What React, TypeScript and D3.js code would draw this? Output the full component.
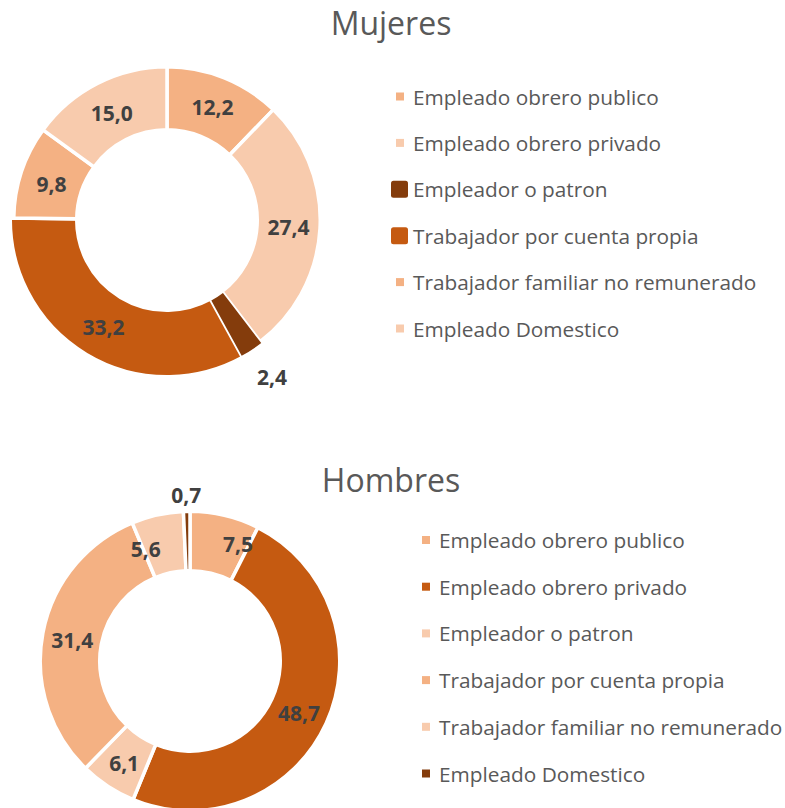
import React, { useEffect } from "react";
import * as d3 from "d3";

const categories = [
  "Empleado obrero publico",
  "Empleado obrero privado",
  "Empleador o patron",
  "Trabajador por cuenta propia",
  "Trabajador familiar no remunerado",
  "Empleado Domestico",
];
const mujeresValues = [12.2, 27.4, 2.4, 33.2, 9.8, 15.0];
const hombresValues = [7.5, 48.7, 6.1, 31.4, 5.6, 0.7];

const C_MID = "#F4B183";
const C_LIGHT = "#F8CBAD";
const C_DARK = "#843C0C";
const C_ORANGE = "#C55A11";

const mujeresColors = [C_MID, C_LIGHT, C_DARK, C_ORANGE, C_MID, C_LIGHT];
const hombresColors = [C_MID, C_ORANGE, C_LIGHT, C_MID, C_LIGHT, C_DARK];

const W = 785;
const H = 808;
const FONT = "'Open Sans', 'Noto Sans', sans-serif";
const fmt = (v: number) => d3.format(".1f")(v).replace(".", ",");
const GAP = 3.5;

type Cfg = {
  title: string;
  values: number[];
  colors: string[];
  cx: number;
  cy: number;
  rOuter: number;
  rInner: number;
  raisedOuter: number;
  titleX: number;
  titleY: number;
  markerCx: number;
  textX: number;
  firstRow: number;
  rowStep: number;
  bigMarker: boolean[];
  raised: boolean[];
  onTop: boolean[];
  nudge: [number, number][];
};

const configs: Cfg[] = [
  {
    title: "Mujeres",
    values: mujeresValues,
    colors: mujeresColors,
    cx: 167,
    cy: 220,
    rOuter: 151.5,
    rInner: 92,
    raisedOuter: 155,
    titleX: 391,
    titleY: 35,
    markerCx: 400,
    textX: 413,
    firstRow: 96.5,
    rowStep: 46.4,
    bigMarker: [false, false, true, true, false, false],
    raised: [false, false, true, true, false, false],
    onTop: [false, false, true, false, false, false],
    nudge: [[0, 0], [0, 0], [4, 2], [0, 1], [0, 2], [0, 1]],
  },
  {
    title: "Hombres",
    values: hombresValues,
    colors: hombresColors,
    cx: 190,
    cy: 661,
    rOuter: 148,
    rInner: 92,
    raisedOuter: 148,
    titleX: 391,
    titleY: 492,
    markerCx: 426,
    textX: 439,
    firstRow: 540,
    rowStep: 46.7,
    bigMarker: [false, false, false, false, false, false],
    raised: [false, false, false, false, false, false],
    onTop: [false, false, false, false, false, false],
    nudge: [[20, 0], [0, 2], [0, 2], [0, 1], [-18, 5], [0, 0]],
  },
];

function Donut({ cfg }: { cfg: Cfg }) {
  const pie = d3
    .pie<number>()
    .sort(null)
    .value((d) => d)
    .startAngle(0)
    .endAngle(2 * Math.PI);
  const arcs = pie(cfg.values);
  const order = arcs
    .map((_, i) => i)
    .sort((a, b) => Number(cfg.onTop[a]) - Number(cfg.onTop[b]) || a - b);

  return (
    <g>
      <text
        x={cfg.titleX}
        y={cfg.titleY}
        textAnchor="middle"
        fontFamily={FONT}
        fontSize={32}
        fill="#595959"
      >
        {cfg.title}
      </text>
      <g transform={`translate(${cfg.cx},${cfg.cy})`}>
        {order.map((i) => {
          const a = arcs[i];
          const outerVis = cfg.raised[i] ? cfg.raisedOuter : cfg.rOuter;
          const top = cfg.onTop[i];
          const arc = d3
            .arc<d3.PieArcDatum<number>>()
            .innerRadius(top ? cfg.rInner : cfg.rInner - GAP / 2)
            .outerRadius(top ? outerVis : outerVis + GAP / 2);
          return (
            <path
              key={i}
              d={arc(a) || ""}
              fill={cfg.colors[i]}
              stroke={top ? "none" : "#ffffff"}
              strokeWidth={GAP}
              strokeLinejoin="miter"
            />
          );
        })}
        {arcs.map((a, i) => {
          const mid = (a.startAngle + a.endAngle) / 2;
          const outerVis = cfg.raised[i] ? cfg.raisedOuter : cfg.rOuter;
          const small = cfg.values[i] < 3;
          const r = small
            ? outerVis + (cfg.values[i] < 1 ? 18 : 30)
            : (cfg.rInner + outerVis) / 2;
          const x = Math.sin(mid) * r + cfg.nudge[i][0];
          const y = -Math.cos(mid) * r + cfg.nudge[i][1];
          return (
            <text
              key={i}
              x={x}
              y={y}
              textAnchor="middle"
              dominantBaseline="central"
              fontFamily={FONT}
              fontWeight="bold"
              fontSize={21}
              fill="#404040"
            >
              {fmt(cfg.values[i])}
            </text>
          );
        })}
      </g>
      <g>
        {categories.map((c, i) => {
          const y = cfg.firstRow + i * cfg.rowStep;
          const big = cfg.bigMarker[i];
          const s = big ? 17 : 8;
          return (
            <g key={c}>
              <rect
                x={(big ? cfg.markerCx - 0.5 : cfg.markerCx) - s / 2}
                y={y - s / 2}
                width={s}
                height={s}
                rx={big ? 2.5 : 0}
                fill={cfg.colors[i]}
              />
              <text
                x={cfg.textX}
                y={y}
                dominantBaseline="central"
                fontFamily={FONT}
                fontSize={20.8}
                fill="#595959"
              >
                {c}
              </text>
            </g>
          );
        })}
      </g>
    </g>
  );
}

export default function App() {
  useEffect(() => {
    document.body.style.margin = "0";
  }, []);
  return (
    <svg width={W} height={H} style={{ display: "block", background: "#ffffff" }}>
      <rect x={0} y={0} width={W} height={H} fill="#ffffff" />
      {configs.map((c) => (
        <Donut key={c.title} cfg={c} />
      ))}
    </svg>
  );
}
